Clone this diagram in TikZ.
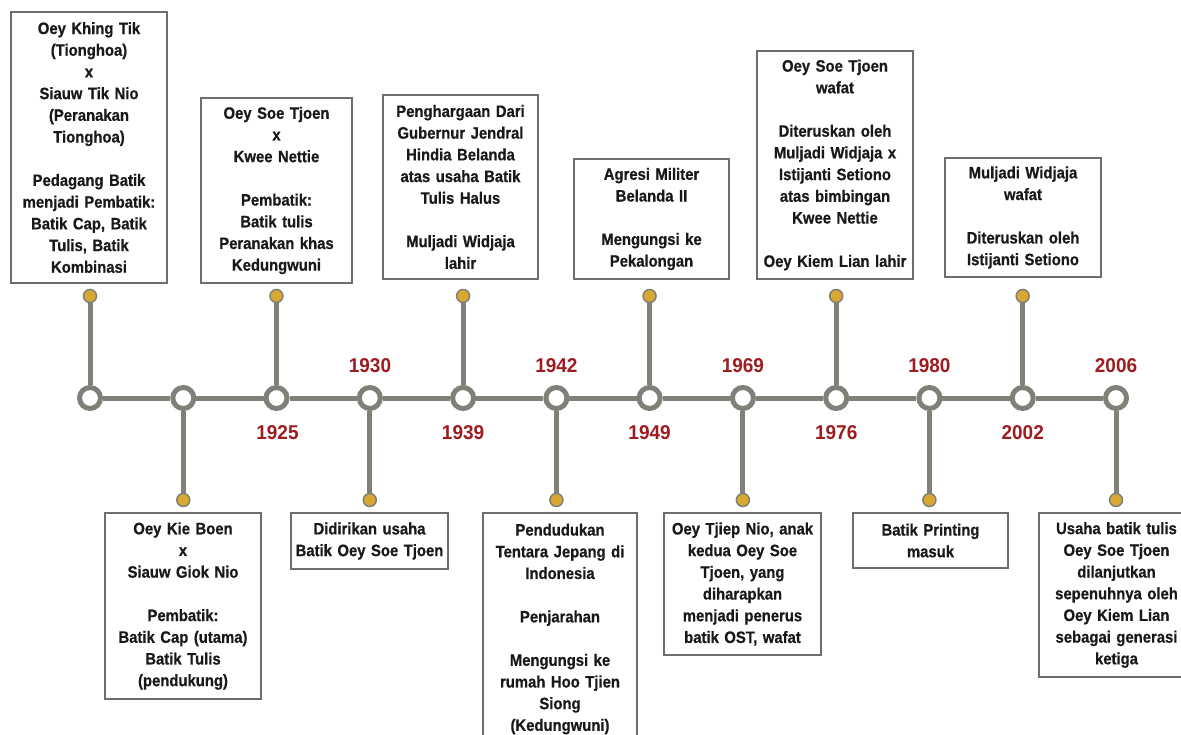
\documentclass[tikz,border=0pt]{standalone}
\usepackage{fontspec}
\newfontfamily\cond{Liberation Sans}[FakeStretch=0.9, FakeBold=0.6, WordSpace=0.7]
\newfontfamily\yrfont{Liberation Sans}[FakeStretch=0.95]
\definecolor{linegray}{RGB}{128,127,120}
\definecolor{boxgray}{RGB}{110,110,110}
\definecolor{dotyellow}{RGB}{216,168,48}
\definecolor{yearred}{RGB}{158,27,32}
\begin{document}
\begin{tikzpicture}[x=1pt,y=-1pt,
  evbox/.style 2 args={draw=boxgray, line width=1.3pt, fill=white, align=center,
    inner sep=0pt, text width=#1pt-8pt, minimum width=#1pt, minimum height=#2pt,
    font=\cond\bfseries\fontsize{16.5}{21.7}\selectfont, text=black!90},
  ring/.style={circle, draw=linegray, line width=5pt, fill=white, inner sep=0pt, minimum size=21pt},
  dot/.style={circle, draw=linegray, line width=1.5pt, fill=dotyellow, inner sep=0pt, minimum size=13pt},
  stem/.style={draw=linegray, line width=5pt},
  yr/.style={font=\yrfont\bfseries\fontsize{20}{22}\selectfont, text=yearred, inner sep=0pt}]
\useasboundingbox (0,0) rectangle (1181,735);

% timeline circles
\foreach \i/\x in {0/90,1/183.3,2/276.5,3/369.8,4/463.1,5/556.4,6/649.6,7/742.9,8/836.2,9/929.4,10/1022.7,11/1116}{
  \node[ring] (c\i) at (\x,398) {};
}
% dots
\foreach \i/\x in {0/90,2/276.5,4/463.1,6/649.6,8/836.2,10/1022.7}{
  \node[dot] (d\i) at (\x,296) {};
}
\foreach \i/\x in {1/183.3,3/369.8,5/556.4,7/742.9,9/929.4,11/1116}{
  \node[dot] (d\i) at (\x,500) {};
}
% connectors
\foreach \i [evaluate=\i as \j using int(\i+1)] in {0,...,10}{
  \draw[stem] (c\i) -- (c\j);
}
\foreach \i in {0,...,11}{
  \draw[stem] (c\i) -- (d\i);
}

% years
\node[yr] (y3) at (370,365.5) {1930};
\node[yr] (y5) at (556.4,365.5) {1942};
\node[yr] (y7) at (742.9,365.5) {1969};
\node[yr] (y9) at (929.4,365.5) {1980};
\node[yr] (y11) at (1116,365.5) {2006};
\node[yr] (y2) at (277.5,432.5) {1925};
\node[yr] (y4) at (463.1,432.5) {1939};
\node[yr] (y6) at (649.6,432.5) {1949};
\node[yr] (y8) at (836.2,432.5) {1976};
\node[yr] (y10) at (1022.7,432.5) {2002};

% upper boxes
\node[evbox={156}{271}] (b0) at (89,147.5) {Oey Khing Tik\\(Tionghoa)\\x\\Siauw Tik Nio\\(Peranakan\\Tionghoa)\\[21.7pt]Pedagang Batik\\menjadi Pembatik:\\Batik Cap, Batik\\Tulis, Batik\\Kombinasi};
\node[evbox={151}{185}] (b2) at (276.5,190.5) {Oey Soe Tjoen\\x\\Kwee Nettie\\[21.7pt]Pembatik:\\Batik tulis\\Peranakan khas\\Kedungwuni};
\node[evbox={155}{184}] (b4) at (460.5,187) {Penghargaan Dari\\Gubernur Jendral\\Hindia Belanda\\atas usaha Batik\\Tulis Halus\\[21.7pt]Muljadi Widjaja\\lahir};
\node[evbox={155}{120}] (b6) at (651.5,219) {Agresi Militer\\Belanda II\\[21.7pt]Mengungsi ke\\Pekalongan};
\node[evbox={156}{228}] (b8) at (835,165) {Oey Soe Tjoen\\wafat\\[21.7pt]Diteruskan oleh\\Muljadi Widjaja x\\Istijanti Setiono\\atas bimbingan\\Kwee Nettie\\[21.7pt]Oey Kiem Lian lahir};
\node[evbox={156}{119}] (b10) at (1023,217.5) {Muljadi Widjaja\\wafat\\[21.7pt]Diteruskan oleh\\Istijanti Setiono};

% lower boxes
\node[evbox={156}{186}] (b1) at (183,606) {Oey Kie Boen\\x\\Siauw Giok Nio\\[21.7pt]Pembatik:\\Batik Cap (utama)\\Batik Tulis\\(pendukung)};
\node[evbox={157}{56}] (b3) at (369.5,541) {Didirikan usaha\\Batik Oey Soe Tjoen};
\node[evbox={154}{232}] (b5) at (560,629) {Pendudukan\\Tentara Jepang di\\Indonesia\\[21.7pt]Penjarahan\\[21.7pt]Mengungsi ke\\rumah Hoo Tjien\\Siong\\(Kedungwuni)};
\node[evbox={157}{142}] (b7) at (742.5,584) {Oey Tjiep Nio, anak\\kedua Oey Soe\\Tjoen, yang\\diharapkan\\menjadi penerus\\batik OST, wafat};
\node[evbox={155}{55}] (b9) at (930.5,540.5) {Batik Printing\\masuk};
\node[evbox={155}{164}] (b11) at (1116.5,595) {Usaha batik tulis\\Oey Soe Tjoen\\dilanjutkan\\sepenuhnya oleh\\Oey Kiem Lian\\sebagai generasi\\ketiga};
\end{tikzpicture}
\end{document}
